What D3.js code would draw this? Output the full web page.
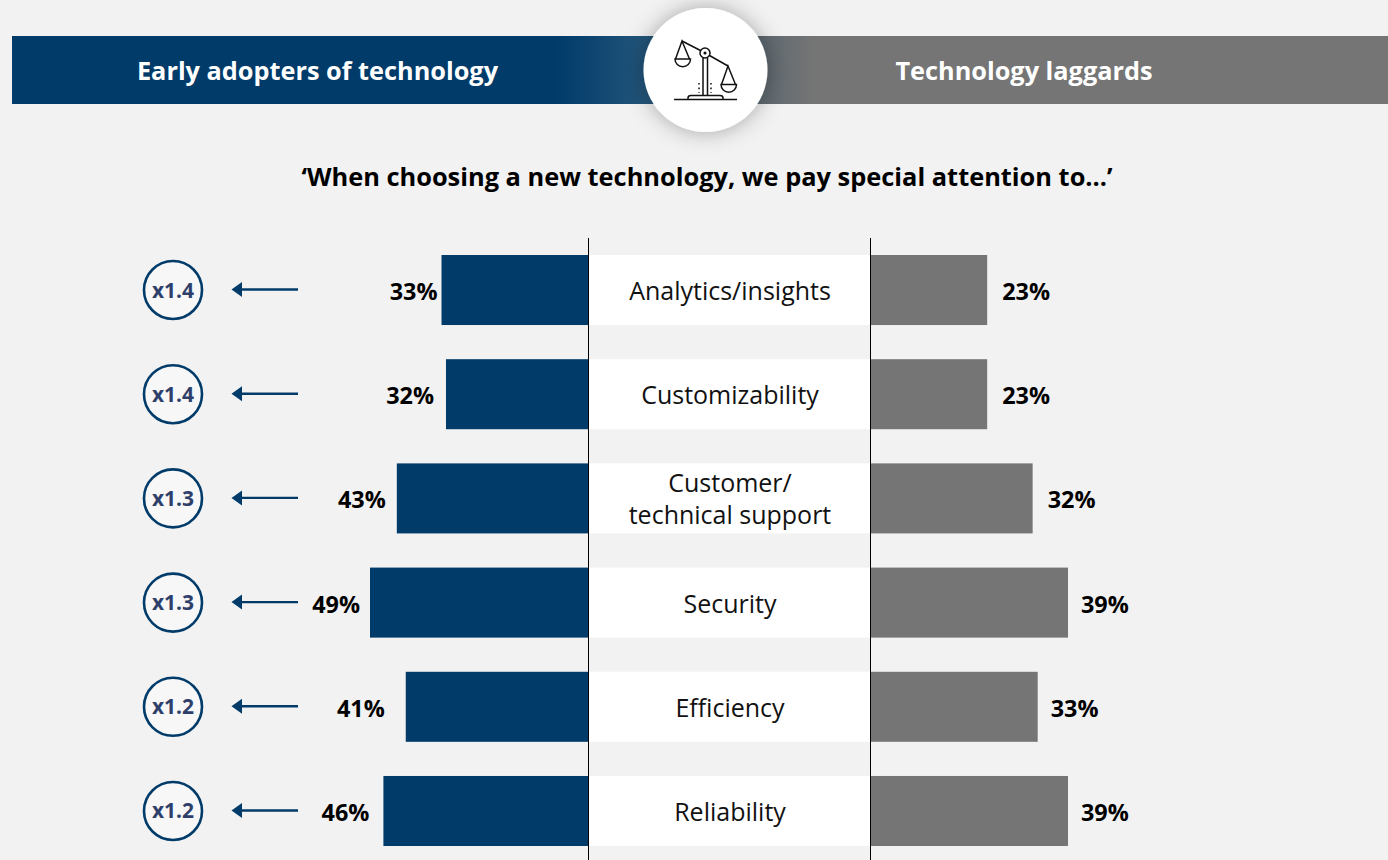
<!DOCTYPE html>
<html>
<head>
<meta charset="utf-8">
<script src="https://cdn.jsdelivr.net/npm/d3@7"></script>
<style>
  html, body { margin: 0; padding: 0; background: #f2f2f2; overflow: hidden; }
  text { font-family: "Open Sans", "Noto Sans", sans-serif; }
</style>
</head>
<body>
<svg id="chart" width="1388" height="860"></svg>
<script>
const categories = ["Analytics/insights", "Customizability", "Customer/\ntechnical support", "Security", "Efficiency", "Reliability"];
const earlyAdopters = [33, 32, 43, 49, 41, 46];
const laggards = [23, 23, 32, 39, 33, 39];
const multipliers = ["x1.4", "x1.4", "x1.3", "x1.3", "x1.2", "x1.2"];
const headerLeft = "Early adopters of technology";
const headerRight = "Technology laggards";
const subtitle = "‘When choosing a new technology, we pay special attention to…’";

const navy = "#003b6a";
const grey = "#757575";
const svg = d3.select("#chart");

// scales, the two sides were not drawn to the same scale in the original
const y = d3.scaleBand().domain(categories).range([255, 846]).paddingInner(0.328);
const xLeft = d3.scaleLinear().domain([0, 49]).range([589, 370]);
const xRight = d3.scaleLinear().domain([0, 39]).range([871, 1068]);

// the value labels sit at uneven distances from the bars
const leftGap = [4, 12, 11, 10, 21, 14];
const rightGap = [15, 15, 15, 13, 13, 13];

const defs = svg.append("defs");
const grad = defs.append("linearGradient").attr("id", "band")
  .attr("gradientUnits", "userSpaceOnUse")
  .attr("x1", 555).attr("x2", 815).attr("y1", 0).attr("y2", 0);
grad.append("stop").attr("offset", 0).attr("stop-color", navy);
grad.append("stop").attr("offset", 0.35).attr("stop-color", "#23557a");
grad.append("stop").attr("offset", 0.8).attr("stop-color", "#5f6970");
grad.append("stop").attr("offset", 1).attr("stop-color", grey);

const shadow = defs.append("filter").attr("id", "glow")
  .attr("x", "-50%").attr("y", "-50%").attr("width", "200%").attr("height", "200%");
shadow.append("feDropShadow").attr("dx", 0).attr("dy", 0)
  .attr("stdDeviation", 11).attr("flood-color", "#000").attr("flood-opacity", 0.32);

// Header band
svg.append("rect").attr("x", 12).attr("y", 36).attr("width", 1376).attr("height", 68)
  .attr("fill", "url(#band)");
svg.append("text").attr("x", 317.5).attr("y", 80).attr("text-anchor", "middle")
  .attr("fill", "#fff").style("font-size", "25.3px").style("font-weight", 700).text(headerLeft);
svg.append("text").attr("x", 1024).attr("y", 80).attr("text-anchor", "middle")
  .attr("fill", "#fff").style("font-size", "25.3px").style("font-weight", 700).text(headerRight);

svg.append("circle").attr("cx", 705.5).attr("cy", 70).attr("r", 62)
  .attr("fill", "#fff").attr("filter", "url(#glow)");

// Scales icon
const icon = svg.append("g").attr("fill", "none").attr("stroke", "#111").attr("stroke-width", 1.5);
icon.append("path").attr("d", "M682 41L700.5 50.5M709.5 55.5L728 66");
icon.append("circle").attr("cx", 705).attr("cy", 53).attr("r", 5);
icon.append("circle").attr("cx", 705).attr("cy", 53).attr("r", 0.8).attr("fill", "#111");
icon.append("path").attr("d", "M675 59H690.5A7.7 7.7 0 0 1 675 59ZM675.5 59L682 41L689.5 59");
icon.append("path").attr("d", "M721 84.5H736.5A7.7 7.7 0 0 1 721 84.5ZM721.5 84.5L728 66L735.5 84.5");
icon.append("path").attr("d", "M703 58V95M707.5 58V95M674 99.5H737M688 99.5V98Q688 95.5 691 95.5H720Q723 95.5 723 98V99.5");
icon.append("path").attr("d", "M699 83V93M711 83V93").attr("stroke-dasharray", "1.6 3");

svg.append("text").attr("x", 707).attr("y", 186).attr("text-anchor", "middle")
  .attr("fill", "#000").style("font-size", "25.4px").style("font-weight", 700).text(subtitle);

// White label boxes
svg.append("g").selectAll("rect").data(categories).join("rect")
  .attr("x", xLeft(0)).attr("y", d => y(d))
  .attr("width", xRight(0) - xLeft(0)).attr("height", y.bandwidth())
  .attr("fill", "#fff");

const catLabels = svg.append("g").selectAll("text").data(categories).join("text")
  .attr("text-anchor", "middle").attr("fill", "#111").style("font-size", "25px");
catLabels.each(function (d) {
  const lines = d.split("\n");
  const cy = y(d) + y.bandwidth() / 2;
  d3.select(this).selectAll("tspan").data(lines).join("tspan")
    .attr("x", (xLeft(0) + xRight(0)) / 2)
    .attr("y", (l, i) => cy + 10 + (i - (lines.length - 1) / 2) * 32)
    .text(l => l);
});

// Bars
svg.append("g").selectAll("rect").data(earlyAdopters).join("rect")
  .attr("x", d => xLeft(d)).attr("y", (d, i) => y(categories[i]))
  .attr("width", d => xLeft(0) - xLeft(d)).attr("height", y.bandwidth())
  .attr("fill", navy);
svg.append("g").selectAll("rect").data(laggards).join("rect")
  .attr("x", xRight(0)).attr("y", (d, i) => y(categories[i]))
  .attr("width", d => xRight(d) - xRight(0)).attr("height", y.bandwidth())
  .attr("fill", grey);

// Value labels
svg.append("g").selectAll("text").data(earlyAdopters).join("text")
  .attr("x", (d, i) => xLeft(d) - leftGap[i])
  .attr("y", (d, i) => y(categories[i]) + y.bandwidth() / 2 + 10)
  .attr("text-anchor", "end").attr("fill", "#000")
  .style("font-size", "23.4px").style("font-weight", 700).text(d => d + "%");
svg.append("g").selectAll("text").data(laggards).join("text")
  .attr("x", (d, i) => xRight(d) + rightGap[i])
  .attr("y", (d, i) => y(categories[i]) + y.bandwidth() / 2 + 10)
  .attr("fill", "#000")
  .style("font-size", "23.4px").style("font-weight", 700).text(d => d + "%");

// Center axis lines
[xLeft(0) - 0.5, xRight(0) - 0.5].forEach(x => {
  svg.append("line").attr("x1", x).attr("x2", x).attr("y1", 238).attr("y2", 860)
    .attr("stroke", "#000").attr("stroke-width", 1);
});

// Multiplier arrows and badges
const badge = svg.append("g").selectAll("g").data(multipliers).join("g")
  .attr("transform", (d, i) => `translate(0,${y(categories[i]) + y.bandwidth() / 2})`);
badge.append("line").attr("x1", 298).attr("x2", 240).attr("y1", -0.5).attr("y2", -0.5)
  .attr("stroke", navy).attr("stroke-width", 2.4);
badge.append("path").attr("d", "M231.5 -0.5L242 -8V7Z").attr("fill", navy);
badge.append("circle").attr("cx", 173).attr("cy", 0).attr("r", 29)
  .attr("fill", "#f7f7f7").attr("stroke", navy).attr("stroke-width", 2.6);
badge.append("text").attr("x", 173).attr("y", 7.5).attr("text-anchor", "middle")
  .attr("fill", "#2f3f6b").style("font-size", "21px").style("font-weight", 700).text(d => d);
</script>
</body>
</html>
